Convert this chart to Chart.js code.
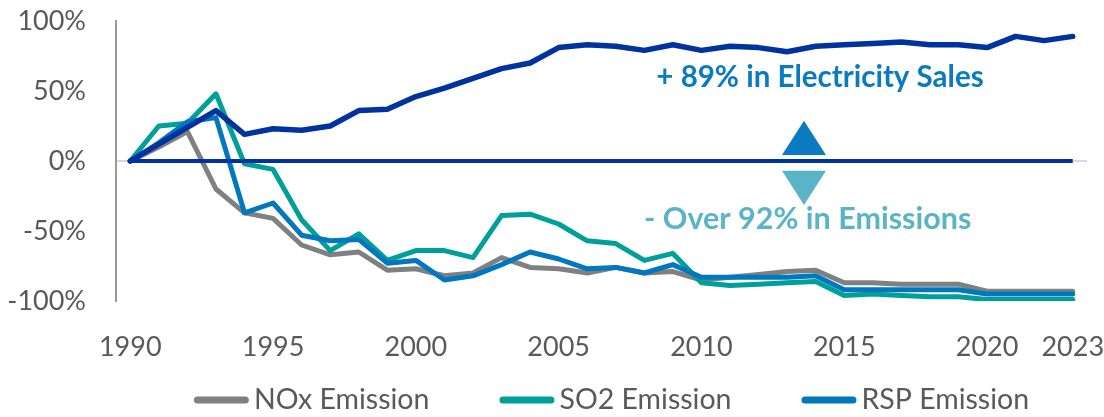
<!DOCTYPE html>
<html>
<head>
<meta charset="utf-8">
<script src="https://cdn.jsdelivr.net/npm/chart.js@4/dist/chart.umd.min.js"></script>
<style>
  html, body { margin: 0; padding: 0; background: #ffffff; }
  #wrap { width: 1104px; height: 417px; }
</style>
</head>
<body>
<div id="wrap"><canvas id="chart" width="1104" height="417"></canvas></div>
<script>
// Change since 1990 (%)
const years = ['1990','1991','1992','1993','1994','1995','1996','1997','1998','1999',
               '2000','2001','2002','2003','2004','2005','2006','2007','2008','2009',
               '2010','2011','2012','2013','2014','2015','2016','2017','2018','2019',
               '2020','2021','2022','2023'];
const tickYears = ['1990','1995','2000','2005','2010','2015','2020','2023'];
const yTicks = [-100, -50, 0, 50, 100];

const electricitySales = [0, 12, 24, 36, 19, 23, 22, 25, 36, 37,
                          46, 52, 59, 66, 70, 81, 83, 82, 79, 83,
                          79, 82, 81, 78, 82, 83, 84, 85, 83, 83,
                          81, 89, 86, 89];
const noxEmission = [0, 10, 21, -20, -37, -41, -60, -67, -65, -78,
                     -77, -82, -80, -69, -76, -77, -80, -76, -80, -79,
                     -85, -83, -81, -79, -78, -87, -87, -88, -88, -88,
                     -93, -93, -93, -93];
const so2Emission = [0, 25, 27, 48, -2, -6, -42, -64, -52, -71,
                     -64, -64, -69, -39, -38, -45, -57, -59, -71, -66,
                     -87, -89, -88, -87, -86, -96, -95, -96, -97, -97,
                     -99, -99, -99, -99];
const rspEmission = [0, 13, 28, 31, -37, -30, -53, -57, -56, -73,
                     -71, -85, -82, -74, -65, -70, -77, -76, -80, -74,
                     -83, -83, -83, -83, -82, -92, -92, -92, -92, -92,
                     -95, -95, -95, -95];

const FONT = "Lato, 'Open Sans', sans-serif";
const NAVY = '#0033a0';
const GREY = '#808080';
const TEAL = '#00a09a';
const BLUE = '#0077be';
const TEXT = '#595959';

// Callout arrows and texts, placed in data space (category index, %)
const callouts = {
  up:   { x: 23.59, halfW: 0.77, base: 4.3,  tip: 28.8,  color: '#0a7bc1' },
  down: { x: 23.59, halfW: 0.77, base: -6.9, tip: -31.4, color: '#5ab4c8' },
  salesText:    { x: 24.15, y: 52.6,  size: 29.5, text: '+ 89% in Electricity Sales', color: '#0a7bc1' },
  emissionText: { x: 23.72, y: -48.8, size: 30.5, text: '- Over 92% in Emissions',   color: '#5ab4c8' }
};

const calloutPlugin = {
  id: 'callouts',
  afterDatasetsDraw(chart) {
    const { ctx } = chart;
    const xs = chart.scales.x, ys = chart.scales.y;
    ctx.save();
    // zero reference line across the year range
    ctx.strokeStyle = NAVY;
    ctx.lineWidth = 4;
    ctx.beginPath();
    ctx.moveTo(xs.getPixelForValue(0), ys.getPixelForValue(0));
    ctx.lineTo(xs.getPixelForValue(years.length - 1), ys.getPixelForValue(0));
    ctx.stroke();
    // triangles
    for (const key of ['up', 'down']) {
      const t = callouts[key];
      const cx = xs.getPixelForValue(t.x);
      const hw = xs.getPixelForValue(t.x + t.halfW) - cx;
      const yb = ys.getPixelForValue(t.base);
      const yt = ys.getPixelForValue(t.tip);
      ctx.fillStyle = t.color;
      ctx.beginPath();
      ctx.moveTo(cx - hw, yb);
      ctx.lineTo(cx + hw, yb);
      ctx.lineTo(cx, yt);
      ctx.closePath();
      ctx.fill();
    }
    // texts
    ctx.textAlign = 'center';
    ctx.textBaseline = 'alphabetic';
    for (const key of ['salesText', 'emissionText']) {
      const t = callouts[key];
      ctx.font = `bold ${t.size}px ${FONT}`;
      ctx.fillStyle = t.color;
      ctx.fillText(t.text, xs.getPixelForValue(t.x), ys.getPixelForValue(t.y));
    }
    ctx.restore();
  }
};

// Bottom legend: short thick line followed by the series name
const legendPlugin = {
  id: 'lineLegend',
  afterDraw(chart) {
    const { ctx, chartArea } = chart;
    const items = chart.data.datasets.filter(d => d.inLegend);
    const lineLen = 55, gapText = 5, gapItem = 70;
    ctx.save();
    ctx.font = `28.5px ${FONT}`;
    const widths = items.map(d => lineLen + gapText + ctx.measureText(d.label).width);
    const total = widths.reduce((a, b) => a + b, 0) + gapItem * (items.length - 1);
    let x = (chartArea.left + chartArea.right) / 2 + 10 - total / 2;
    const y = chart.height - 17;
    items.forEach((d, i) => {
      ctx.strokeStyle = d.borderColor;
      ctx.lineWidth = 7;
      ctx.lineCap = 'round';
      ctx.beginPath();
      ctx.moveTo(x + 3.5, y);
      ctx.lineTo(x + lineLen - 3.5, y);
      ctx.stroke();
      ctx.fillStyle = TEXT;
      ctx.textAlign = 'left';
      ctx.textBaseline = 'middle';
      ctx.fillText(d.label, x + lineLen + gapText, y);
      x += widths[i] + gapItem;
    });
    ctx.restore();
  }
};

const lineStyle = {
  borderWidth: 5,
  pointRadius: 0,
  pointHoverRadius: 0,
  tension: 0,
  borderJoinStyle: 'round',
  borderCapStyle: 'round',
  fill: false
};

new Chart(document.getElementById('chart'), {
  type: 'line',
  data: {
    labels: years,
    datasets: [
      { label: 'NOx Emission', data: noxEmission, borderColor: GREY, order: 4, inLegend: true, ...lineStyle },
      { label: 'SO2 Emission', data: so2Emission, borderColor: TEAL, order: 3, inLegend: true, ...lineStyle },
      { label: 'RSP Emission', data: rspEmission, borderColor: BLUE, order: 2, inLegend: true, ...lineStyle },
      { label: 'Electricity Sales', data: electricitySales, borderColor: NAVY, order: 1, inLegend: false, ...lineStyle, borderWidth: 5.5 }
    ]
  },
  options: {
    responsive: false,
    animation: false,
    devicePixelRatio: 1,
    layout: { padding: { left: 0, right: 17, top: 21, bottom: 52 } },
    plugins: {
      legend: { display: false },
      tooltip: { enabled: false }
    },
    scales: {
      x: {
        type: 'category',
        offset: true,
        grid: { display: false },
        border: { display: false },
        ticks: {
          autoSkip: false,
          maxRotation: 0,
          padding: 22,
          color: TEXT,
          font: { family: FONT, size: 27 },
          callback(value, index) {
            const y = years[index];
            return tickYears.includes(y) ? y : '';
          }
        },
        afterFit(scale) {
          scale.height = 64;
          scale.paddingLeft = 0;
          scale.paddingRight = 0;
        }
      },
      y: {
        min: yTicks[0],
        max: yTicks[yTicks.length - 1],
        afterBuildTicks(scale) { scale.ticks = yTicks.map(v => ({ value: v })); },
        grid: {
          drawTicks: false,
          lineWidth: 2,
          color: (c) => (c.tick && c.tick.value === 0) ? '#d9d9d9' : 'rgba(0,0,0,0)'
        },
        border: { display: true, color: '#9a9a9a', width: 2 },
        ticks: {
          padding: 30,
          color: TEXT,
          font: { family: FONT, size: 27 },
          callback: (v) => v + '%'
        },
        afterFit(scale) {
          scale.width = 116;
          scale.paddingTop = 0;
          scale.paddingBottom = 0;
        }
      }
    }
  },
  plugins: [calloutPlugin, legendPlugin]
});
</script>
</body>
</html>
